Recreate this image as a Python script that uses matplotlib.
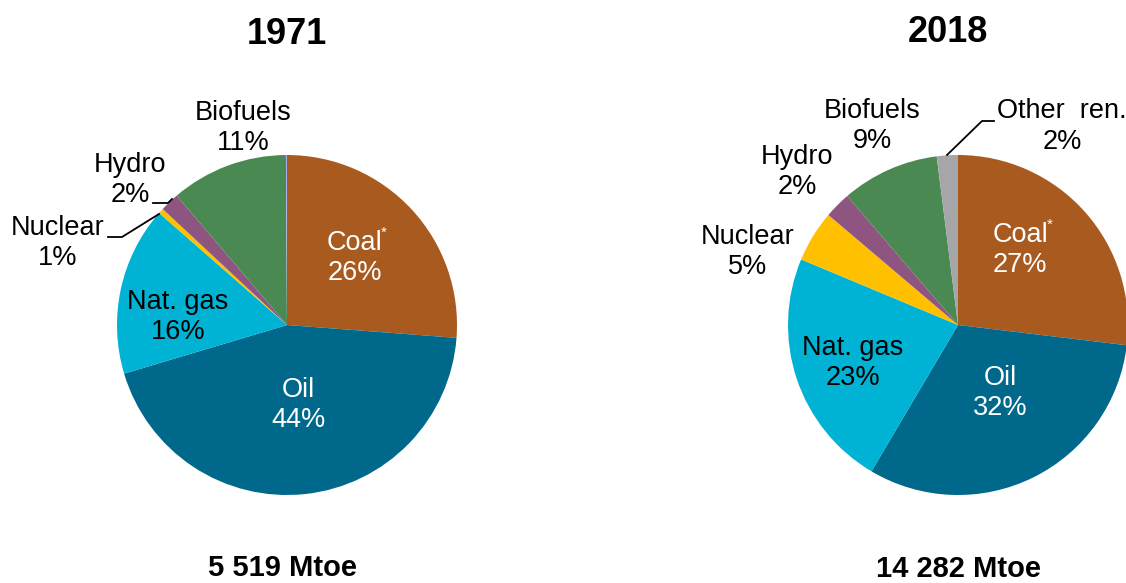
import matplotlib.pyplot as plt
import matplotlib as mplt

mplt.rcParams['font.family'] = ['Liberation Sans', 'DejaVu Sans']

# data
fuels = ['Coal', 'Oil', 'Nat. gas', 'Nuclear', 'Hydro', 'Biofuels', 'Other ren.']
share_1971 = [26.1, 44.0, 16.0, 0.5, 1.8, 11.1, 0.1]
share_2018 = [26.9, 31.6, 22.8, 4.9, 2.5, 9.3, 2.0]
pct_1971 = ['26%', '44%', '16%', '1%', '2%', '11%', '']
pct_2018 = ['27%', '32%', '23%', '5%', '2%', '9%', '2%']
totals = ['5 519 Mtoe', '14 282 Mtoe']
years = ['1971', '2018']

colors_1971 = ['#A95A1F', '#00688B', '#00B2D4', '#FFC000', '#8E5580', '#4A8A52', '#A9A9F0']
colors_2018 = ['#A95A1F', '#00688B', '#00B2D4', '#FFC000', '#8E5580', '#4A8A52', '#A6A6A8']

W, H = 1126, 583
fig = plt.figure(figsize=(W / 100, H / 100), dpi=100)
ax = fig.add_axes([0, 0, 1, 1])


def Y(y):
    # pixel row -> data y
    return H - y


R = 170
ax.pie(share_1971, colors=colors_1971, startangle=90, counterclock=False,
       center=(287, Y(325)), radius=R, wedgeprops=dict(linewidth=0))
ax.pie(share_2018, colors=colors_2018, startangle=90, counterclock=False,
       center=(958, Y(325)), radius=R, wedgeprops=dict(linewidth=0))

ax.set_xlim(0, W)
ax.set_ylim(0, H)
ax.set_aspect('equal')
ax.axis('off')

fs = 19.5


def label(x, y, name, pct, color='black'):
    ax.text(x, Y(y), name, ha='center', va='center', fontsize=fs, color=color)
    if pct:
        ax.text(x, Y(y + 30), pct, ha='center', va='center', fontsize=fs, color=color)


# 1971 labels
label(355, 243, fuels[0], pct_1971[0], 'white')
ax.text(381, Y(233), '*', ha='left', va='center', fontsize=11, color='white')
label(298, 390, fuels[1], pct_1971[1], 'white')
label(178, 302, fuels[2], pct_1971[2])
label(58, 228, fuels[3], pct_1971[3])
label(130, 165, fuels[4], pct_1971[4])
label(243, 113, fuels[5], pct_1971[5])
ax.plot([108, 122, 159], [Y(237), Y(237), Y(214)], color='black', lw=1.3)
ax.plot([153, 168, 172], [Y(203), Y(203), Y(199)], color='black', lw=1.3)

# 2018 labels
label(1020, 235, fuels[0], pct_2018[0], 'white')
ax.text(1047, Y(225), '*', ha='left', va='center', fontsize=11, color='white')
label(1000, 378, fuels[1], pct_2018[1], 'white')
label(853, 348, fuels[2], pct_2018[2])
label(748, 237, fuels[3], pct_2018[3])
label(797, 157, fuels[4], pct_2018[4])
label(872, 111, fuels[5], pct_2018[5])
ax.text(1062, Y(111), 'Other  ren.', ha='center', va='center', fontsize=fs)
ax.text(1062, Y(142), pct_2018[6], ha='center', va='center', fontsize=fs)
ax.plot([947, 982, 994], [Y(155), Y(121), Y(121)], color='black', lw=1.3)

# titles and totals
ax.text(287, Y(35), years[0], ha='center', va='center', fontsize=26, fontweight='bold')
ax.text(948, Y(32), years[1], ha='center', va='center', fontsize=26, fontweight='bold')
ax.text(282, Y(568), totals[0], ha='center', va='center', fontsize=21, fontweight='bold')
ax.text(958, Y(569), totals[1], ha='center', va='center', fontsize=21, fontweight='bold')

fig.savefig('out.png', dpi=100, facecolor='white')
